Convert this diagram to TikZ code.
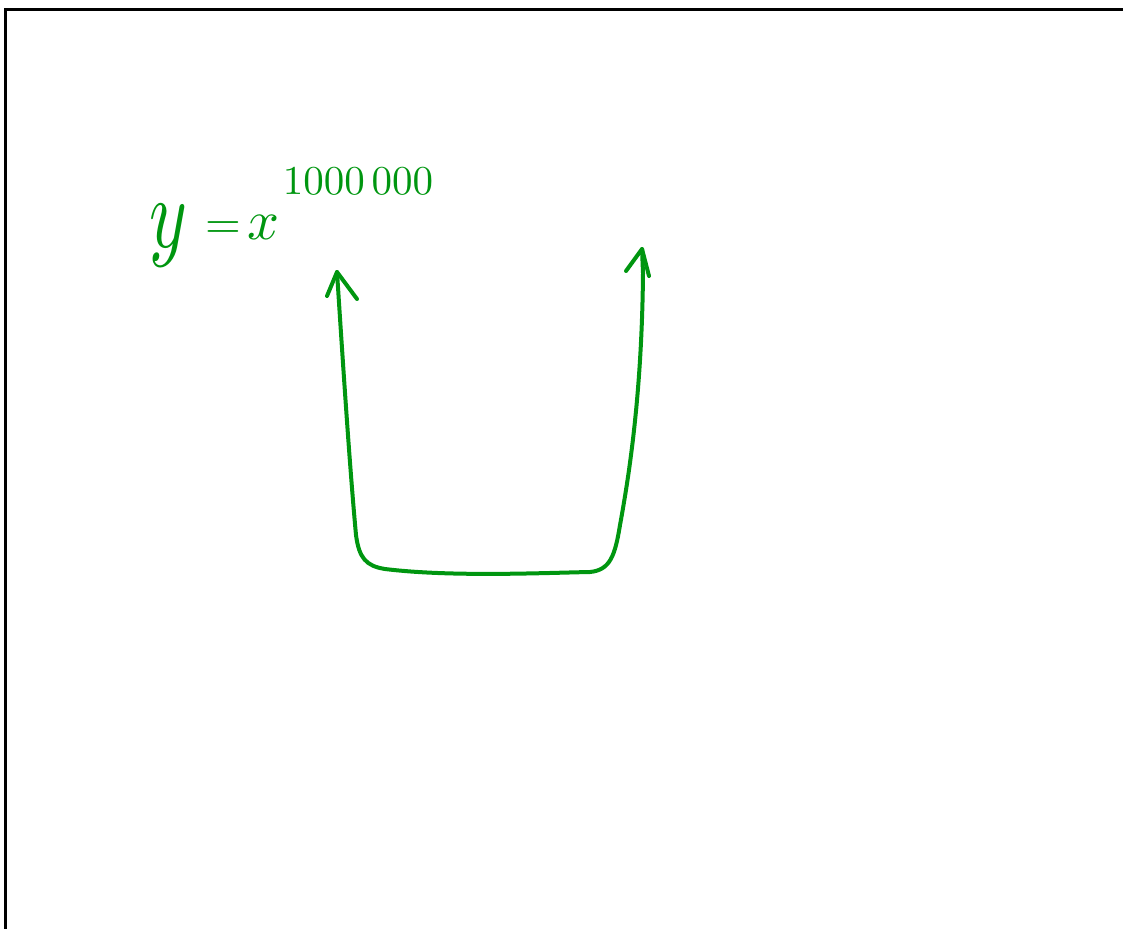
\documentclass[tikz,border=0pt]{standalone}
\usetikzlibrary{calc}
\definecolor{pen}{RGB}{0,150,16}
\begin{document}
\begin{tikzpicture}[x=1pt,y=-1pt,
  frame/.style={line width=3pt,black},
  ink/.style={line width=4pt,pen,line cap=round,line join=round},
  hand/.style={text=pen,inner sep=0pt,transform shape}]
\useasboundingbox (0,0) rectangle (1123,928);
% frame
\draw[frame] (5,929) -- (5,10) -- (1124,10);
% formula
\node[hand,xscale=7.2,yscale=10] (y) at (168,236) {$y$};
\node[hand,scale=4.6] (eq) at (223,230) {$=$};
\node[hand,scale=5.6] (x) at (263,227) {$x$};
\node[hand,scale=4.1] (exp) at (358,181) {$1000\,000$};
% U-curve
\coordinate (lt) at (337,272);
\coordinate (rt) at (642,249);
\draw[ink] (lt) .. controls (344,380) and (350,470) .. (356,535)
  .. controls (359,558) and (366,566) .. (385,569)
  .. controls (450,577) and (540,573) .. (590,572)
  .. controls (610,570) and (615,556) .. (620,525)
  .. controls (632,460) and (642,380) .. (643,273) -- (rt);
% arrowheads
\draw[ink] (327,296) -- (lt) -- (357,299);
\draw[ink] (626,271) -- (rt) -- (649,276);
\end{tikzpicture}
\end{document}
